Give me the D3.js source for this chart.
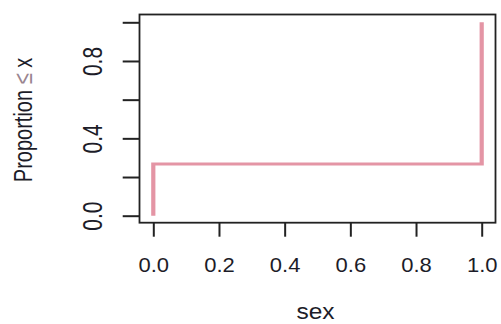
<!DOCTYPE html>
<html>
<head>
<meta charset="utf-8">
<script src="https://cdn.jsdelivr.net/npm/d3@7/dist/d3.min.js"></script>
<style>
  html, body { margin: 0; padding: 0; background: #fff; }
  svg { display: block; }
  text { font-family: "Liberation Sans", Arial, Helvetica, sans-serif; fill: #1c1c28; }
</style>
</head>
<body>
<script>
// Empirical CDF of the "sex" variable (0/1 coded)
const stepX = [0, 0, 1, 1];
const stepY = [0, 0.267, 0.267, 1];

const xTicks = [0, 0.2, 0.4, 0.6, 0.8, 1.0];
const xTickLabels = ["0.0", "0.2", "0.4", "0.6", "0.8", "1.0"];
const yTicks = [0, 0.2, 0.4, 0.6, 0.8, 1.0];
const yTickLabels = ["0.0", "", "0.4", "", "0.8", ""];

const xTitle = "sex";
const yTitle = ["Proportion ", "\u2264", " x"];

const W = 501, H = 324;
const box = { left: 139.5, right: 495.5, top: 14.5, bottom: 222.7 };

const x = d3.scaleLinear().domain([0, 1]).range([153.3, 481.7]);
const y = d3.scaleLinear().domain([0, 1]).range([215.7, 22.3]);

const svg = d3.select("body").append("svg")
  .attr("width", W).attr("height", H);

// The drawing device stretches horizontally: vertical strokes come out wider
const sx = 1.4;
const xs = d3.scaleLinear().domain(x.domain()).range(x.range().map(v => v / sx));

const stepLine = d3.line()
  .x((d, i) => xs(stepX[i]))
  .y((d, i) => y(stepY[i]));

svg.append("g")
  .attr("transform", `scale(${sx},1)`)
  .append("path")
  .datum(stepX)
  .attr("d", stepLine)
  .attr("fill", "none")
  .attr("stroke", "#E495A5")
  .attr("stroke-width", 3)
  .attr("stroke-linejoin", "miter")
  .attr("stroke-linecap", "butt");

// Plot frame
svg.append("rect")
  .attr("x", box.left).attr("y", box.top)
  .attr("width", box.right - box.left)
  .attr("height", box.bottom - box.top)
  .attr("fill", "none")
  .attr("stroke", "#222")
  .attr("stroke-width", 1.8);

// Bottom axis
const xAxis = d3.axisBottom(x)
  .tickValues(xTicks)
  .tickSize(14)
  .tickFormat(() => "");
const gx = svg.append("g")
  .attr("transform", `translate(0,${box.bottom})`)
  .call(xAxis);
gx.select(".domain").remove();
gx.selectAll(".tick line").attr("stroke", "#222").attr("stroke-width", 2);

gx.selectAll(".tick")
  .append("text")
  .attr("text-anchor", "middle")
  .attr("transform", "translate(0,49) scale(1.1,1)")
  .attr("font-size", 20)
  .style("fill", "#1c1c28")
  .text((d, i) => xTickLabels[i]);

// Left axis
const yAxis = d3.axisLeft(y)
  .tickValues(yTicks)
  .tickSize(16.8)
  .tickFormat(() => "");
const gy = svg.append("g")
  .attr("transform", `translate(${box.left},0)`)
  .call(yAxis);
gy.select(".domain").remove();
gy.selectAll(".tick line").attr("stroke", "#222").attr("stroke-width", 2);

gy.selectAll(".tick")
  .append("text")
  .attr("text-anchor", "middle")
  .attr("transform", `translate(${102.3 - box.left},0) rotate(-90) scale(1,1.32)`)
  .attr("font-size", 21)
  .style("fill", "#1c1c28")
  .text((d, i) => yTickLabels[i]);

// Axis titles
svg.append("text")
  .attr("text-anchor", "middle")
  .attr("transform", `translate(${(296 + 335) / 2},319) scale(1.14,1)`)
  .attr("font-size", 21.5)
  .text(xTitle);

const yt = svg.append("text")
  .attr("text-anchor", "middle")
  .attr("transform", "translate(31.7,120) rotate(-90) scale(1,1.3)")
  .attr("font-size", 20);
yt.selectAll("tspan")
  .data(yTitle)
  .join("tspan")
  .style("fill", (d, i) => i === 1 ? "#9a8590" : "#1c1c28")
  .text(d => d);
</script>
</body>
</html>
